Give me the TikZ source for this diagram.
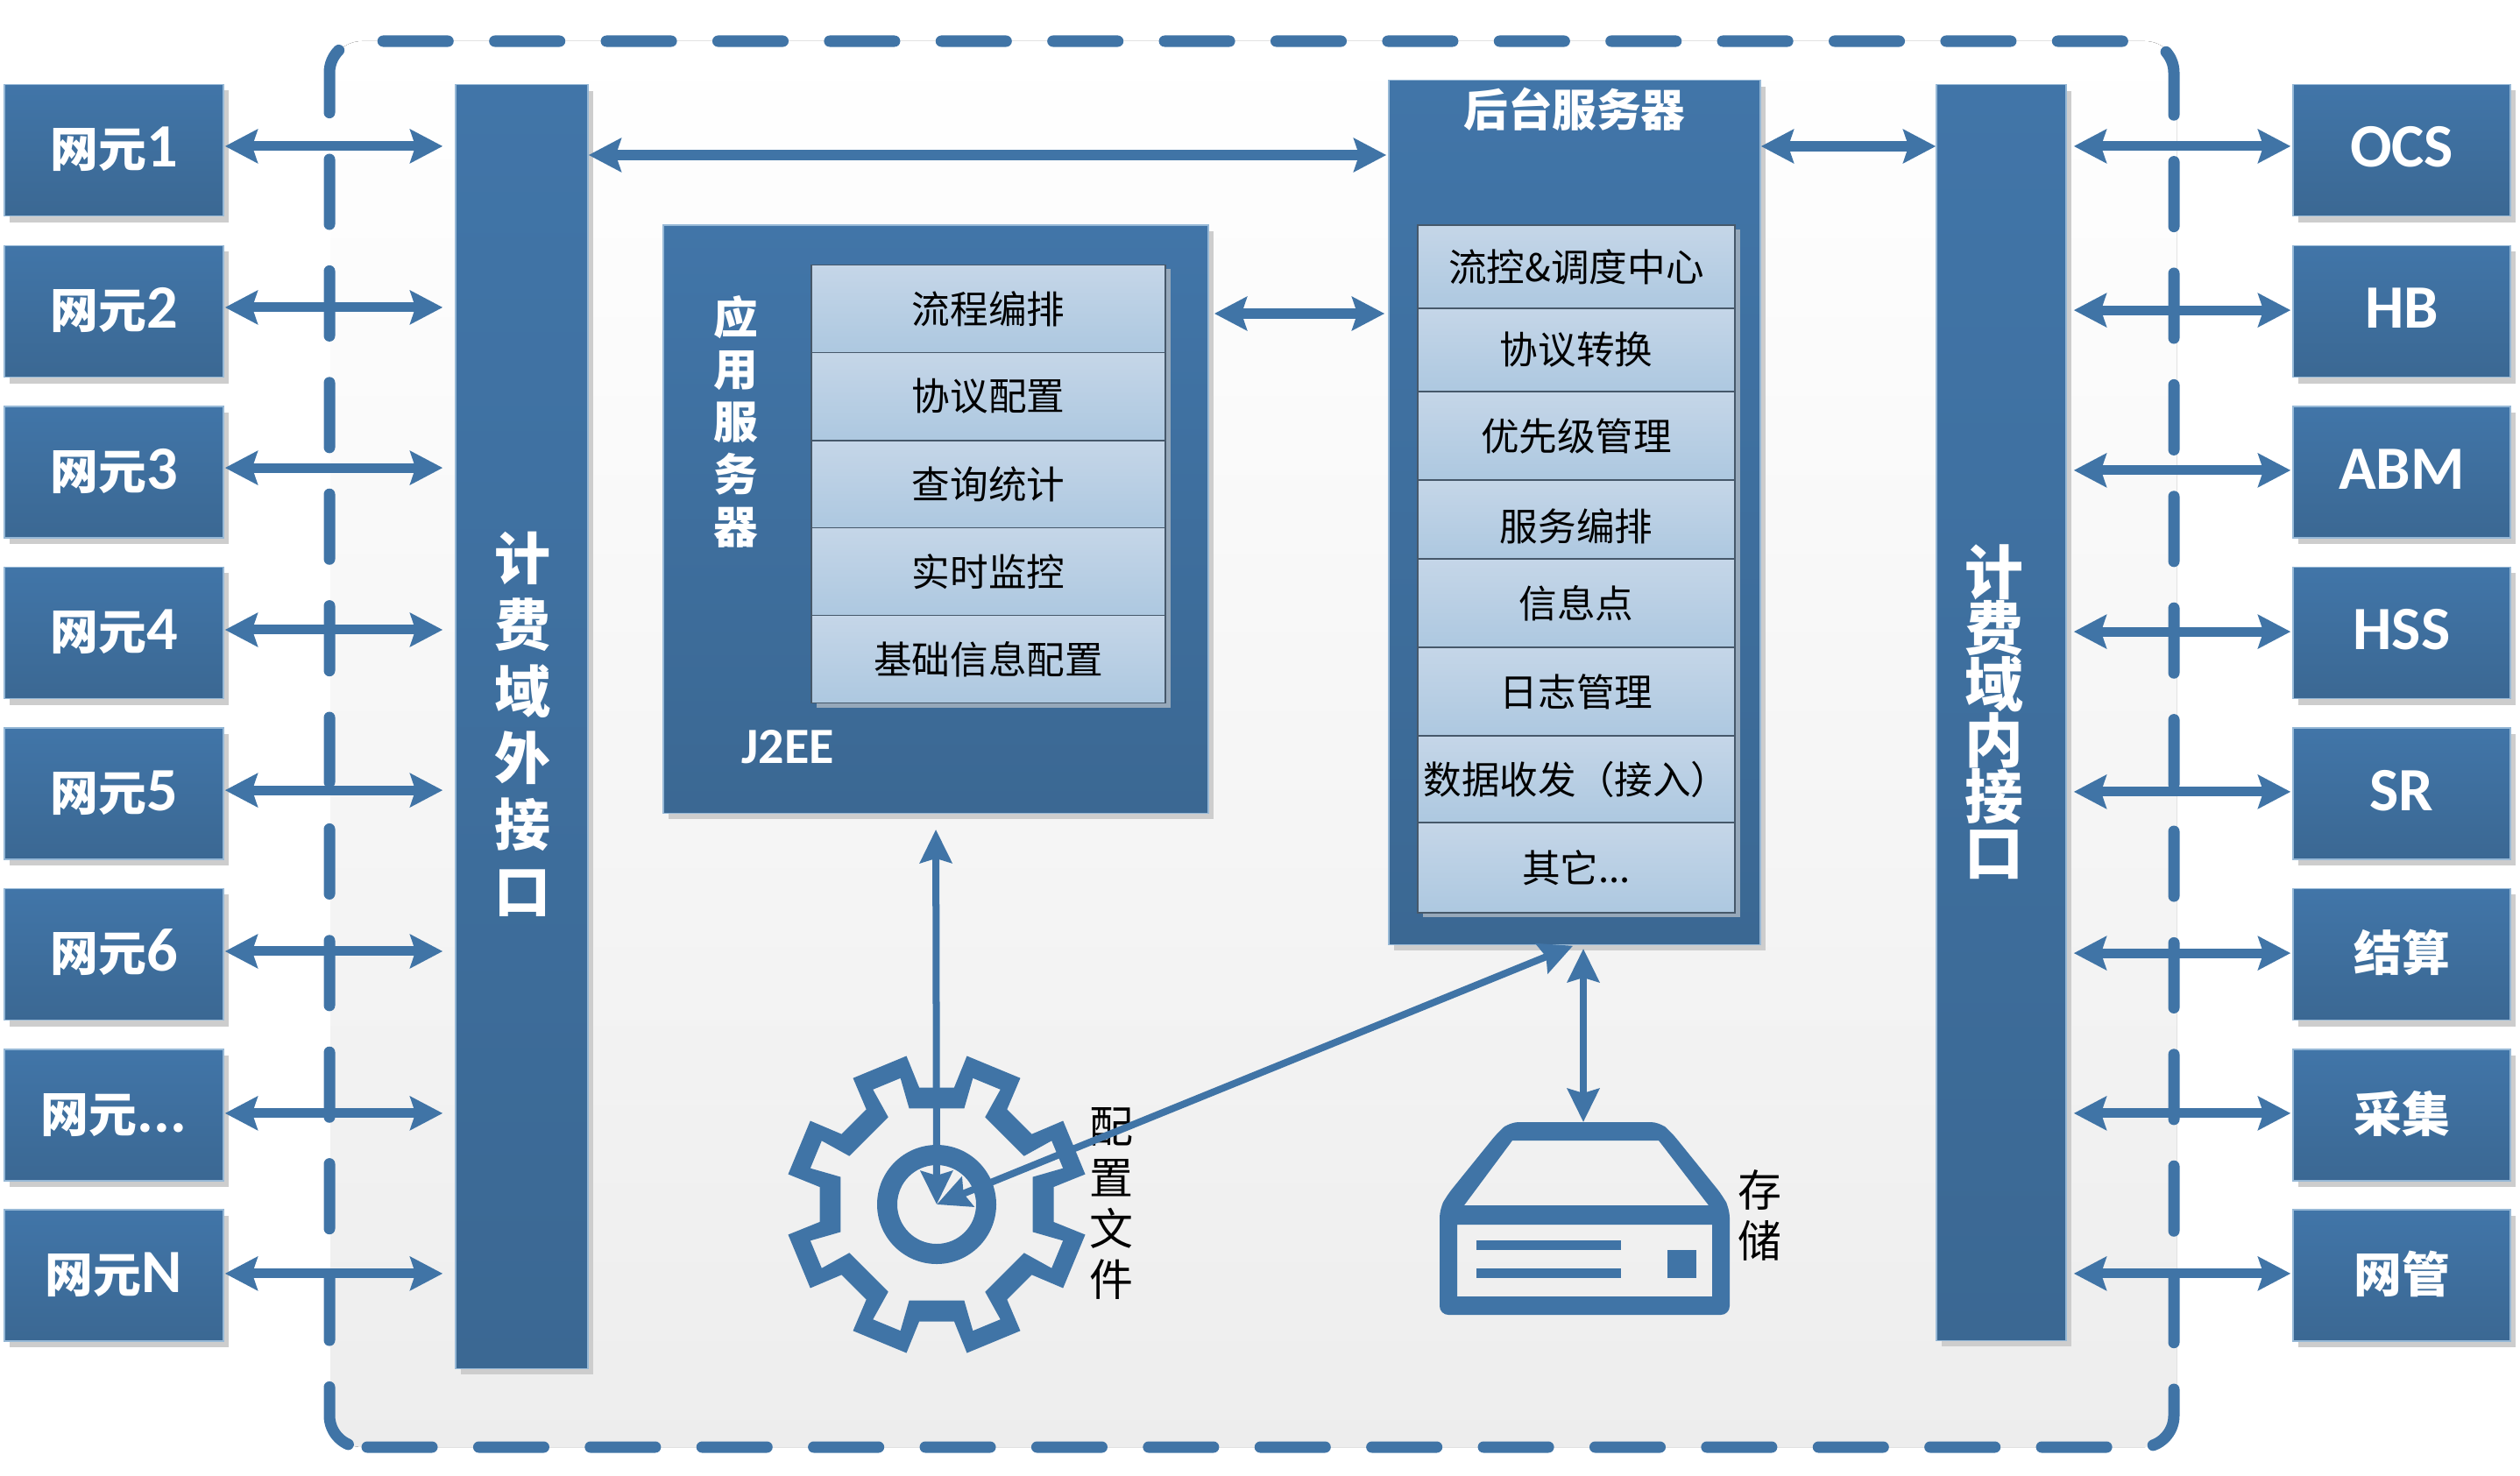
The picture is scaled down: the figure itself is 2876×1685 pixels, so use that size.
\documentclass[tikz,border=0pt]{standalone}
\usepackage{fontspec}
\setmainfont{Noto Sans CJK SC}
\newfontfamily\latinfont{Carlito}
\usetikzlibrary{arrows.meta, shadows, positioning}
\definecolor{iconblue}{RGB}{64, 116, 166}
\definecolor{boxtop}{RGB}{65, 117, 168}
\definecolor{boxbottom}{RGB}{59, 104, 147}
\definecolor{boxedge}{RGB}{150, 184, 214}
\definecolor{rowtop}{RGB}{197, 214, 232}
\definecolor{rowbottom}{RGB}{173, 200, 224}
\definecolor{rowedge}{RGB}{70, 88, 106}
\definecolor{shadowgray}{RGB}{205, 205, 205}
\definecolor{rowshadow}{RGB}{150, 168, 186}
\newcommand{\ltn}[1]{{\latinfont\fontsize{20}{24}\selectfont\bfseries #1}}
\tikzset{
  panelbox/.style={draw=boxedge, line width=0.4pt, top color=boxtop, bottom color=boxbottom, inner sep=0pt,
    text=white, drop shadow={shadow xshift=0.06cm, shadow yshift=-0.07cm, fill=shadowgray, opacity=1}},
  netbox/.style={panelbox, minimum width=2.5cm, minimum height=1.5cm, text height=0.5cm, text depth=0.12cm,
    font=\fontsize{15.6}{18}\selectfont\bfseries},
  rowbox/.style={draw=rowedge, line width=0.5pt, top color=rowtop, bottom color=rowbottom, inner sep=0pt,
    font=\fontsize{12.4}{14}\selectfont,
    drop shadow={shadow xshift=0.06cm, shadow yshift=-0.05cm, fill=rowshadow, opacity=1}},
  approw/.style={rowbox, minimum width=4.04cm, minimum height=1cm},
  backrow/.style={rowbox, minimum width=3.62cm},
  linkarrow/.style={{Stealth[length=0.37cm, width=0.38cm, inset=0.06cm]}-{Stealth[length=0.37cm, width=0.38cm, inset=0.06cm]},
    draw=iconblue, line width=0.11cm},
  thinarrow/.style={{Stealth[length=0.38cm, width=0.36cm, inset=0.05cm]}-{Stealth[length=0.38cm, width=0.36cm, inset=0.05cm]},
    draw=iconblue, line width=0.08cm},
  framepath/.style={rounded corners=0.36cm},
  vlabel/.style={align=center, inner sep=0pt, font=\fontsize{14.2}{16.5}\selectfont}
}
\begin{document}
\begin{tikzpicture}[x=0.01cm, y=-0.01cm]
  \useasboundingbox (0, 0) rectangle (2876, 1685);

  % Dashed frame
  \fill[framepath, top color=white, bottom color=black!7] (377, 47) rectangle (2484, 1652);
  \draw[framepath, draw=iconblue, line width=0.13cm, line cap=round, dash pattern=on 0.74cm off 0.5333cm]
    (419, 1652) -- (2481, 1652) -- (2481, 47) -- (376, 47) -- (376, 1652) -- (412, 1652);

  % Interface bars
  \node[panelbox, minimum width=1.51cm, minimum height=14.65cm] (leftbar) at (595.5, 829.5) {};
  \node[panelbox, minimum width=1.48cm, minimum height=14.33cm] (rightbar) at (2284, 813.5) {};
  \node[align=center, inner sep=0pt, text=white, font=\fontsize{18.2}{21.6}\selectfont\bfseries] (leftlabel) at (596, 827)
    {计\\费\\域\\外\\接\\口};
  \node[align=center, inner sep=0pt, text=white, font=\fontsize{19}{18.2}\selectfont\bfseries] (rightlabel) at (2276, 813)
    {计\\费\\域\\内\\接\\口};

  % Network elements
  \node[netbox] (ne1) at (130, 171.5) {网元\ltn{1}};
  \node[netbox] (ne2) at (130, 355.5) {网元\ltn{2}};
  \node[netbox] (ne3) at (130, 539) {网元\ltn{3}};
  \node[netbox] (ne4) at (130, 722.5) {网元\ltn{4}};
  \node[netbox] (ne5) at (130, 906) {网元\ltn{5}};
  \node[netbox] (ne6) at (130, 1089.5) {网元\ltn{6}};
  \node[netbox] (ne7) at (130, 1273) {网元\ltn{...}};
  \node[netbox] (ne8) at (130, 1456) {网元\ltn{N}};

  % Peer systems
  \node[netbox, minimum width=2.48cm] (ocs) at (2741, 171.5) {\ltn{OCS}};
  \node[netbox, minimum width=2.48cm] (hb) at (2741, 355.5) {\ltn{HB}};
  \node[netbox, minimum width=2.48cm] (abm) at (2741, 539) {\ltn{ABM}};
  \node[netbox, minimum width=2.48cm] (hss) at (2741, 722.5) {\ltn{HSS}};
  \node[netbox, minimum width=2.48cm] (sr) at (2741, 906) {\ltn{SR}};
  \node[netbox, minimum width=2.48cm] (settle) at (2741, 1089.5) {结算};
  \node[netbox, minimum width=2.48cm] (collect) at (2741, 1273) {采集};
  \node[netbox, minimum width=2.48cm] (netmgr) at (2741, 1456) {网管};

  % Application server
  \node[panelbox, minimum width=6.22cm, minimum height=6.71cm] (appsrv) at (1068, 592.5) {};
  \node[inner sep=0pt, align=center, text=white, font=\fontsize{14.4}{17}\selectfont\bfseries] (applabel) at (840, 481)
    {应\\用\\服\\务\\器};
  \node[inner sep=0pt, text=white] (j2ee) at (899, 853) {\latinfont\fontsize{16.5}{19}\selectfont\bfseries J2EE};
  \node[approw] (app1) at (1128, 352.5) {流程编排};
  \node[approw] (app2) at (1128, 452.5) {协议配置};
  \node[approw] (app3) at (1128, 553) {查询统计};
  \node[approw] (app4) at (1128, 652.5) {实时监控};
  \node[approw] (app5) at (1128, 752.5) {基础信息配置};

  % Backend server
  \node[panelbox, minimum width=4.24cm, minimum height=9.86cm] (backsrv) at (1797, 585) {};
  \node[inner sep=0pt, text=white, font=\fontsize{14.4}{17}\selectfont\bfseries] (backlabel) at (1797, 125) {后台服务器};
  \node[backrow, minimum height=0.95cm] (back1) at (1799, 304.5) {流控\&调度中心};
  \node[backrow, minimum height=0.95cm] (back2) at (1799, 399.5) {协议转换};
  \node[backrow, minimum height=1.01cm] (back3) at (1799, 497.5) {优先级管理};
  \node[backrow, minimum height=0.90cm, text height=0.53cm] (back4) at (1799, 593) {服务编排};
  \node[backrow, minimum height=1.01cm] (back5) at (1799, 688.5) {信息点};
  \node[backrow, minimum height=1.01cm] (back6) at (1799, 789.5) {日志管理};
  \node[backrow, minimum height=0.99cm] (back7) at (1799, 889.5) {数据收发（接入）};
  \node[backrow, minimum height=1.03cm] (back8) at (1799, 990.5) {其它...};

  % Gear icon
  \coordinate (gearc) at (1069, 1375);
  \fill[iconblue, even odd rule, shift={(1069, 1375)}]
    (8.5:135) foreach \a in {22.5,67.5,...,337.5} {-- (\a-14:135) -- (\a-11:173) -- (\a+11:173) -- (\a+14:135)} -- cycle
    (16:114) foreach \a in {22.5,67.5,...,337.5} {-- (\a-6.5:114) -- (\a-6.5:150) -- (\a+6.5:150) -- (\a+6.5:114)} -- cycle
    (0, 0) circle [radius=68] (0, 0) circle [radius=45];
  \node[vlabel] (gearlabel) at (1268, 1374) {配\\置\\文\\件};

  % Storage icon
  \coordinate (store) at (1807, 1281);
  \fill[iconblue, even odd rule]
    [rounded corners=0.1cm] (1643, 1501) -- (1643, 1380) -- (1651, 1365) -- (1710, 1292) -- (1723, 1281) -- (1894, 1281)
      -- (1907, 1292) -- (1966, 1365) -- (1974, 1380) -- (1974, 1501) -- cycle
    [sharp corners] (1726, 1302) -- (1893, 1302) -- (1950, 1376) -- (1671, 1376) -- cycle
    (1663, 1398) rectangle (1954, 1480);
  \fill[iconblue] (1685, 1416) rectangle (1850, 1427);
  \fill[iconblue] (1685, 1448) rectangle (1850, 1459);
  \fill[iconblue] (1903, 1427) rectangle (1936, 1459);
  \node[vlabel] (storelabel) at (2008, 1387) {存\\储};

  % Links to the outer interface
  \draw[linkarrow, shorten <=0.01cm, shorten >=0.14cm] ([yshift=1.3pt]ne1.east) -- ([yshift=1.3pt]ne1.east -| leftbar.west);
  \draw[linkarrow, shorten <=0.01cm, shorten >=0.14cm] ([yshift=1.3pt]ne2.east) -- ([yshift=1.3pt]ne2.east -| leftbar.west);
  \draw[linkarrow, shorten <=0.01cm, shorten >=0.14cm] ([yshift=1.4pt]ne3.east) -- ([yshift=1.4pt]ne3.east -| leftbar.west);
  \draw[linkarrow, shorten <=0.01cm, shorten >=0.14cm] ([yshift=1pt]ne4.east) -- ([yshift=1pt]ne4.east -| leftbar.west);
  \draw[linkarrow, shorten <=0.01cm, shorten >=0.14cm] ([yshift=1.1pt]ne5.east) -- ([yshift=1.1pt]ne5.east -| leftbar.west);
  \draw[linkarrow, shorten <=0.01cm, shorten >=0.14cm] ([yshift=1pt]ne6.east) -- ([yshift=1pt]ne6.east -| leftbar.west);
  \draw[linkarrow, shorten <=0.01cm, shorten >=0.14cm] ([yshift=0.6pt]ne7.east) -- ([yshift=0.6pt]ne7.east -| leftbar.west);
  \draw[linkarrow, shorten <=0.01cm, shorten >=0.14cm] ([yshift=0.6pt]ne8.east) -- ([yshift=0.6pt]ne8.east -| leftbar.west);

  % Links to the inner interface
  \draw[linkarrow, shorten <=0.02cm, shorten >=0.08cm] ([yshift=1.3pt]ocs.west) -- ([yshift=1.3pt]ocs.west -| rightbar.east);
  \draw[linkarrow, shorten <=0.02cm, shorten >=0.08cm] ([yshift=0.4pt]hb.west) -- ([yshift=0.4pt]hb.west -| rightbar.east);
  \draw[linkarrow, shorten <=0.02cm, shorten >=0.08cm] ([yshift=0.6pt]abm.west) -- ([yshift=0.6pt]abm.west -| rightbar.east);
  \draw[linkarrow, shorten <=0.02cm, shorten >=0.08cm] ([yshift=0.4pt]hss.west) -- ([yshift=0.4pt]hss.west -| rightbar.east);
  \draw[linkarrow, shorten <=0.02cm, shorten >=0.08cm] ([yshift=0.6pt]sr.west) -- ([yshift=0.6pt]sr.west -| rightbar.east);
  \draw[linkarrow, shorten <=0.02cm, shorten >=0.08cm] ([yshift=0.4pt]settle.west) -- ([yshift=0.4pt]settle.west -| rightbar.east);
  \draw[linkarrow, shorten <=0.02cm, shorten >=0.08cm] ([yshift=0.6pt]collect.west) -- ([yshift=0.6pt]collect.west -| rightbar.east);
  \draw[linkarrow, shorten <=0.02cm, shorten >=0.08cm] ([yshift=0.6pt]netmgr.west) -- ([yshift=0.6pt]netmgr.west -| rightbar.east);

  % Links between the servers
  \coordinate (topy) at (0, 177);
  \coordinate (midy) at (0, 358);
  \coordinate (righty) at (0, 167);
  \draw[linkarrow, shorten >=0.02cm] (leftbar.east |- topy) -- (backsrv.west |- topy);
  \draw[linkarrow, shorten <=0.06cm, shorten >=0.04cm] (appsrv.east |- midy) -- (backsrv.west |- midy);
  \draw[linkarrow] (backsrv.east |- righty) -- (rightbar.west |- righty);

  % Links to the icons
  \draw[thinarrow, shorten <=0.18cm] (appsrv.south) -- (gearc);
  \draw[thinarrow, shorten <=0.02cm] (backsrv.south) -- (gearc);
  \draw[thinarrow, shorten <=0.04cm] (backsrv.south -| store) -- (store);
\end{tikzpicture}
\end{document}
